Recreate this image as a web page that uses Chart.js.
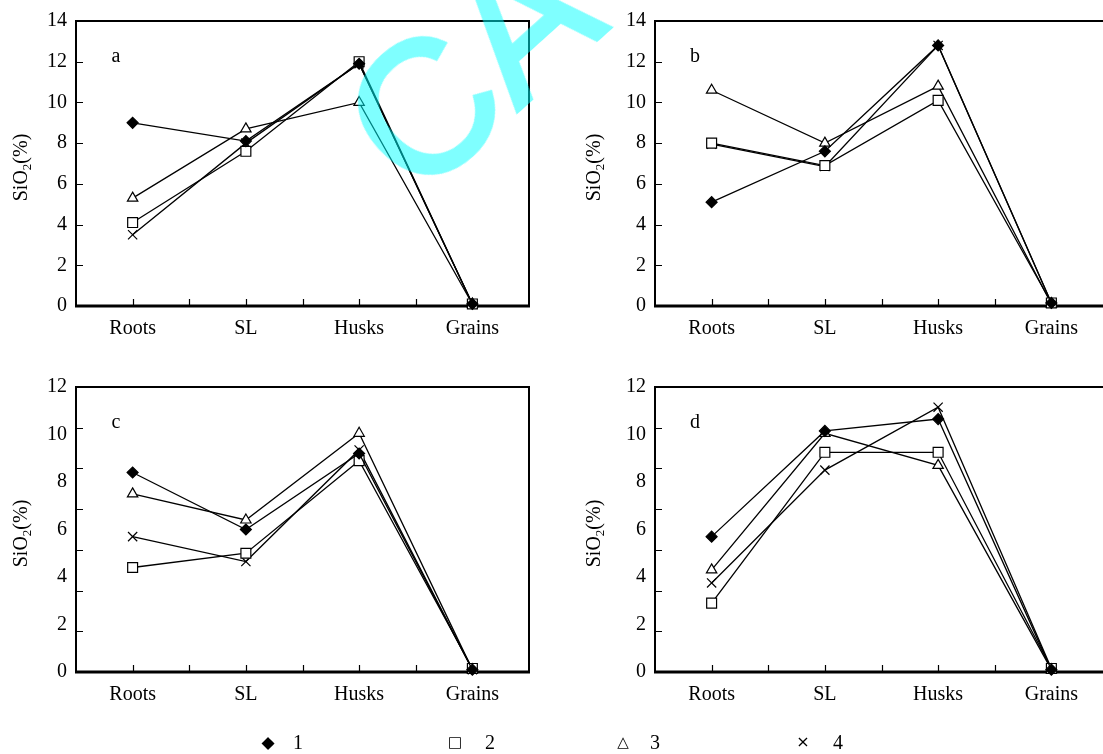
<!DOCTYPE html>
<html>
<head>
<meta charset="utf-8">
<script src="https://cdn.jsdelivr.net/npm/chart.js@4.4.1/dist/chart.umd.min.js"></script>
<style>
  html, body { margin: 0; padding: 0; background: #fff; overflow: hidden; width: 1103px; height: 754px; position: relative; }
  canvas { position: absolute; }
  #ca { left: 0; top: 0; }
  #cb { left: 579px; top: 0; }
  #cc { left: 0; top: 366px; }
  #cd { left: 579px; top: 366px; }
  .lg { position: absolute; top: 742px; transform: translate(-50%, -50%); font-family: 'Liberation Serif'; font-size: 20px; color: #000; line-height: 1; }
  .mk { font-family: 'DejaVu Sans'; }
  .wm { position: absolute; left: 310px; top: 84px; font-family: 'Liberation Sans'; font-size: 188px; line-height: 1;
        color: rgb(0, 255, 255); -webkit-text-stroke: 4px rgb(0, 255, 255); opacity: 0.5;
        transform: rotate(-42deg); transform-origin: 0 0; white-space: nowrap; pointer-events: none; }
</style>
</head>
<body>
<canvas id="ca" width="560" height="370"></canvas>
<canvas id="cb" width="560" height="370"></canvas>
<canvas id="cc" width="560" height="370"></canvas>
<canvas id="cd" width="560" height="370"></canvas>

<span class="lg mk" style="left:268px;font-size:17px">◆</span><span class="lg" style="left:298px">1</span>
<span class="lg mk" style="left:455px;font-size:15px">□</span><span class="lg" style="left:490px">2</span>
<span class="lg mk" style="left:623px;font-size:15px">△</span><span class="lg" style="left:655px">3</span>
<span class="lg mk" style="left:803px;font-size:16px">×</span><span class="lg" style="left:838px">4</span>

<div class="wm">CA</div>

<script>
// organs sampled
const organs = ['Roots', 'SL', 'Husks', 'Grains'];

// SiO2 (%) per treatment 1-4, panel a
const a1 = [9.0, 8.1, 11.9, 0.1];
const a2 = [4.1, 7.6, 12.0, 0.1];
const a3 = [5.3, 8.7, 10.0, 0.1];
const a4 = [3.5, 8.0, 11.9, 0.1];

// panel b
const b1 = [5.1, 7.6, 12.8, 0.15];
const b2 = [8.0, 6.9, 10.1, 0.15];
const b3 = [10.6, 8.0, 10.8, 0.1];
const b4 = [7.95, 6.85, 12.8, 0.15];

// panel c
const c1 = [8.4, 6.0, 9.2, 0.1];
const c2 = [4.4, 5.0, 8.9, 0.15];
const c3 = [7.5, 6.4, 10.05, 0.1];
const c4 = [5.7, 4.65, 9.35, 0.1];

// panel d
const d1 = [5.7, 10.15, 10.65, 0.1];
const d2 = [2.9, 9.25, 9.25, 0.15];
const d3 = [4.3, 10.05, 8.7, 0.1];
const d4 = [3.75, 8.5, 11.15, 0.15];

Chart.defaults.font.family = "'Liberation Serif', 'Times New Roman', serif";
Chart.defaults.color = '#000';

// box, inner tick marks, panel letter and y title
const framePlugin = {
  id: 'frame',
  beforeDatasetsDraw(chart, args, opts) {
    const { ctx, chartArea: { left, right, top, bottom } } = chart;
    const x = chart.scales.x, y = chart.scales.y;
    ctx.save();
    ctx.strokeStyle = '#000';
    ctx.lineWidth = 2;
    ctx.beginPath();
    ctx.moveTo(left, bottom);
    ctx.lineTo(left, top);
    ctx.lineTo(right, top);
    ctx.lineTo(right, bottom);
    ctx.stroke();
    ctx.lineWidth = 3;
    ctx.beginPath();
    ctx.moveTo(left - 1, bottom);
    ctx.lineTo(right + 1, bottom);
    ctx.stroke();

    ctx.lineWidth = 1.2;
    ctx.beginPath();
    for (let i = 1; i < 7; i++) {
      const py = Math.round(y.getPixelForValue(y.min + i * (y.max - y.min) / 7)) + 0.5;
      ctx.moveTo(left, py);
      ctx.lineTo(left + 7, py);
    }
    for (let v = 0; v <= organs.length - 1; v += 0.5) {
      const px = Math.round(x.getPixelForValue(v)) + 0.5;
      ctx.moveTo(px, bottom);
      ctx.lineTo(px, bottom - 7);
    }
    ctx.stroke();

    ctx.fillStyle = '#000';
    ctx.font = "20px 'Liberation Serif'";
    ctx.textAlign = 'center';
    ctx.textBaseline = 'middle';
    ctx.fillText(opts.letter, left + 40, top + 36);

    // SiO2(%) with subscript
    ctx.translate(opts.titleX, (top + bottom) / 2 + 4);
    ctx.rotate(-Math.PI / 2);
    ctx.textAlign = 'left';
    ctx.textBaseline = 'alphabetic';
    const big = "20px 'Liberation Serif'", small = "13px 'Liberation Serif'";
    ctx.font = big;
    const w1 = ctx.measureText('SiO').width, w3 = ctx.measureText('(%)').width;
    ctx.font = small;
    const w2 = ctx.measureText('2').width;
    let cx = -(w1 + w2 + w3) / 2;
    const base = 7;
    ctx.font = big; ctx.fillText('SiO', cx, base); cx += w1;
    ctx.font = small; ctx.fillText('2', cx, base + 4); cx += w2;
    ctx.font = big; ctx.fillText('(%)', cx, base);
    ctx.restore();
  }
};

function makeSets(s1, s2, s3, s4) {
  return [
    { label: '1', data: s1, pointStyle: 'rectRot', pointRadius: 5.5, pointBackgroundColor: '#000' },
    { label: '2', data: s2, pointStyle: 'rect', pointRadius: 7, pointBackgroundColor: '#fff' },
    { label: '3', data: s3, pointStyle: 'triangle', pointRadius: 6, pointBackgroundColor: '#fff' },
    { label: '4', data: s4, pointStyle: 'crossRot', pointRadius: 6.5, pointBackgroundColor: '#000' }
  ].map(d => Object.assign({
    borderColor: '#000', borderWidth: 1.3, pointBorderColor: '#000', pointBorderWidth: 1.2,
    tension: 0, fill: false, clip: false
  }, d));
}

function makeChart(id, sets, yMax, letter, titleX) {
  return new Chart(document.getElementById(id), {
    type: 'line',
    data: { labels: organs, datasets: sets },
    options: {
      responsive: false,
      animation: false,
      events: [],
      layout: { padding: { top: 19, right: 31, left: 0, bottom: 0 } },
      plugins: {
        legend: { display: false },
        tooltip: { enabled: false },
        frame: { letter, titleX }
      },
      scales: {
        x: {
          type: 'category',
          offset: true,
          grid: { display: false, drawTicks: false },
          border: { display: false },
          ticks: { font: { size: 20 }, padding: 11, autoSkip: false, maxRotation: 0 },
          afterFit: s => { s.height = 64; }
        },
        y: {
          min: 0, max: yMax,
          grid: { display: false, drawTicks: false },
          border: { display: false },
          ticks: { stepSize: 2, font: { size: 20 }, padding: 9 },
          afterFit: s => { s.width = 76; }
        }
      }
    },
    plugins: [framePlugin]
  });
}

makeChart('ca', makeSets(a1, a2, a3, a4), 14, 'a', 20);
makeChart('cb', makeSets(b1, b2, b3, b4), 14, 'b', 14);
makeChart('cc', makeSets(c1, c2, c3, c4), 12, 'c', 20);
makeChart('cd', makeSets(d1, d2, d3, d4), 12, 'd', 14);
</script>
</body>
</html>
